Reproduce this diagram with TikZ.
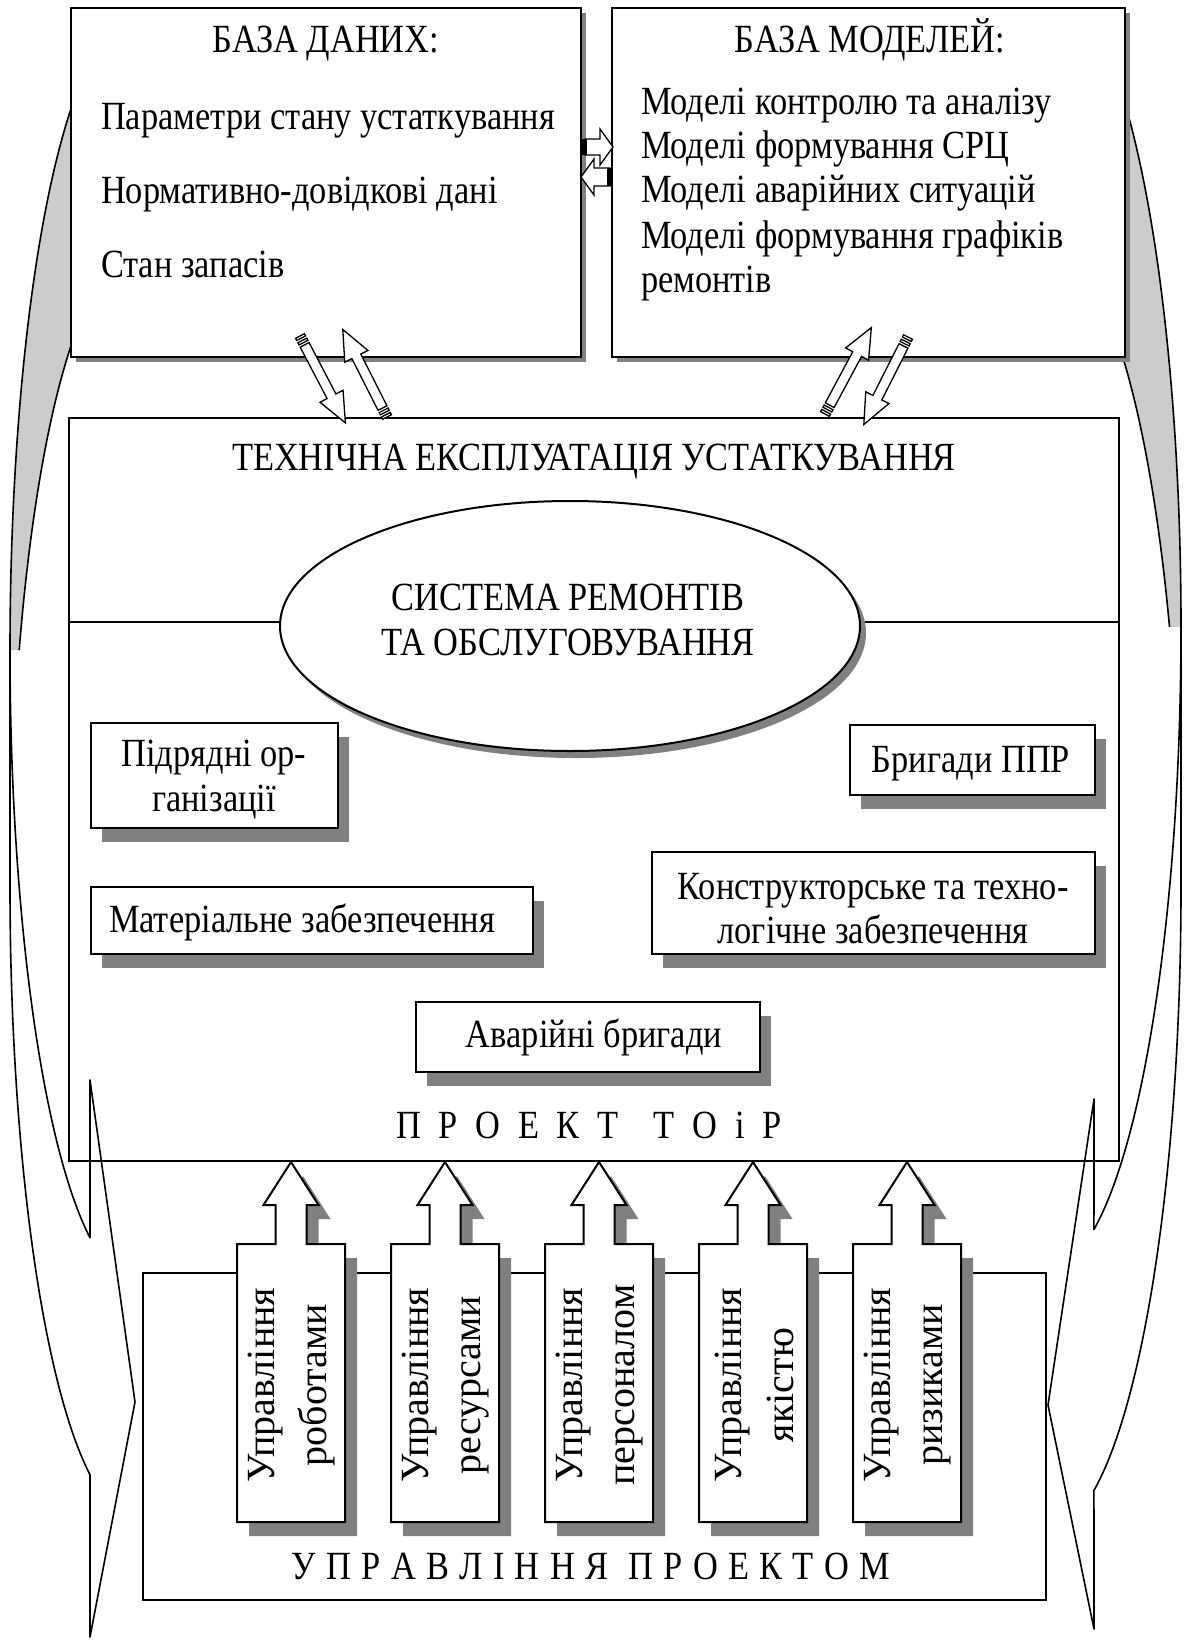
\documentclass[tikz,border=0pt]{standalone}
\usepackage{fontspec}
\setmainfont{Liberation Serif}[FakeStretch=0.86]
\newfontfamily\upfont{Liberation Serif}
\usetikzlibrary{shapes.geometric, shadows, positioning}
\definecolor{cshade}{HTML}{808080}
\definecolor{cback}{HTML}{CCCCCC}
\tikzset{
  every picture/.style={x=1pt, y=-1pt, line width=2pt, font=\fontsize{40}{44.5}\selectfont},
  panel/.style={draw, fill=white, inner sep=0pt, drop shadow={shadow xshift=5pt, shadow yshift=-5pt, fill=cshade, opacity=1}},
  card/.style={draw, fill=white, inner sep=0pt, drop shadow={shadow xshift=11pt, shadow yshift=-14pt, fill=cshade, opacity=1}},
  ribbon/.style={draw, line width=1.6pt, line join=round},
  block/.style={draw, fill=white, line width=1.3pt},
  heading/.style={inner sep=0pt, anchor=base},
  entry/.style={inner sep=0pt, anchor=base west},
  vtext/.style={inner sep=0pt, rotate=90, align=center, font=\upfont\fontsize{40}{52}\selectfont},
}
\newcommand{\ctlarrow}[1]{({#1-54},1522) -- ({#1-54},1244) -- ({#1-15.5},1244) -- ({#1-15.5},1205) -- ({#1-27.5},1205) -- (#1,1162) -- ({#1+27.5},1205) -- ({#1+15.5},1205) -- ({#1+15.5},1244) -- ({#1+54},1244) -- ({#1+54},1522) -- cycle}
\newcommand{\penarrow}[2]{%
  \begin{scope}[shift={#1}, rotate=#2]
    \draw[block] (0,-5) rectangle (2.5,5);
    \draw[block] (5,-5) rectangle (7.5,5);
    \draw[block] (10,-5) -- (68,-5) -- (68,-13) -- (98,0) -- (68,13) -- (68,5) -- (10,5) -- cycle;
  \end{scope}}

\begin{document}
\begin{tikzpicture}
  \useasboundingbox (0,0) rectangle (1187,1640);
  \fill[white] (0,0) rectangle (1187,1640);

  \fill[cback] plot[domain=270:180, samples=80] ({135+125*cos(\x)},{650+630*sin(\x)}) -- plot[domain=202.1:270, samples=80] ({135+125*cos(\x)},{887+630*sin(\x)}) -- cycle;
  \draw[ribbon] plot[domain=270:180, samples=80] ({135+125*cos(\x)},{650+630*sin(\x)});
  \draw[ribbon] plot[domain=270:202.1, samples=80] ({135+125*cos(\x)},{887+630*sin(\x)});
  \draw[ribbon, fill=white] plot[domain=180:111.1, samples=80] ({135+125*cos(\x)},{650+630*sin(\x)}) -- (90,1080) -- (135,1402) -- (90,1637) -- plot[domain=111.1:180, samples=80] ({135+125*cos(\x)},{887+630*sin(\x)}) -- cycle;

  \fill[cback] plot[domain=293:360, samples=80] ({1048+133*cos(\x)},{627+642*sin(\x)}) -- plot[domain=336:270, samples=80] ({1048+133*cos(\x)},{888+642*sin(\x)}) -- cycle;
  \draw[ribbon] plot[domain=293:360, samples=80] ({1048+133*cos(\x)},{627+642*sin(\x)});
  \draw[ribbon] plot[domain=270:336, samples=80] ({1048+133*cos(\x)},{888+642*sin(\x)});
  \draw[ribbon, fill=white] plot[domain=360:429.8, samples=80] ({1048+133*cos(\x)},{627+642*sin(\x)}) -- (1094,1099) -- (1048,1405) -- (1094,1629) -- plot[domain=429.8:360, samples=80] ({1048+133*cos(\x)},{888+642*sin(\x)}) -- cycle;

  \node[draw, inner sep=0pt, minimum width=1050pt, minimum height=743pt] (tech) at (594,789.5) {};
  \node[heading] (techt) at (594,470) {ТЕХНІЧНА ЕКСПЛУАТАЦІЯ УСТАТКУВАННЯ};
  \coordinate (divl) at (69,622);
  \coordinate (divr) at (1119,622);
  \draw (divl) -- (divr);

  \node[panel, minimum width=510pt, minimum height=349pt] (dbase) at (326,182.5) {};
  \node[heading] (dbaset) at (326,53) {БАЗА ДАНИХ:};
  \node[entry] (db1) at (100,130) {Параметри стану устаткування};
  \node[entry] (db2) at (100,204) {Нормативно-довідкові дані};
  \node[entry] (db3) at (100,277) {Стан запасів};

  \node[panel, minimum width=513pt, minimum height=349pt] (dmodel) at (868.5,182.5) {};
  \node[heading] (dmodelt) at (870,53) {БАЗА МОДЕЛЕЙ:};
  \node[entry] (dm1) at (640,115) {Моделі контролю та аналізу};
  \node[entry] (dm2) at (640,159) {Моделі формування СРЦ};
  \node[entry] (dm3) at (640,203) {Моделі аварійних ситуацій};
  \node[entry] (dm4) at (640,248) {Моделі формування графіків};
  \node[entry] (dm5) at (640,292) {ремонтів};

  \node[ellipse, draw, fill=white, inner sep=0pt, minimum width=580pt, minimum height=250pt, drop shadow={shadow xshift=6pt, shadow yshift=-7pt, fill=cshade, opacity=1}] (srm) at (570,626) {};
  \node[heading] (srm1) at (568,610) {СИСТЕМА РЕМОНТІВ};
  \node[heading] (srm2) at (568,655) {ТА ОБСЛУГОВУВАННЯ};

  \node[card, minimum width=247pt, minimum height=105pt] (subc) at (214.5,775.5) {};
  \node[heading] (subc1) at (214,766) {Підрядні ор-};
  \node[heading] (subc2) at (214,811) {ганізації};
  \node[card, minimum width=245pt, minimum height=70pt] (ppr) at (972.5,760) {};
  \node[heading] (pprt) at (971,772) {Бригади ППР};
  \node[card, minimum width=442pt, minimum height=67pt] (mat) at (312,920.5) {};
  \node[entry] (matt) at (108,932) {Матеріальне забезпечення};
  \node[card, minimum width=443pt, minimum height=102pt] (kon) at (873.5,903) {};
  \node[heading] (kon1) at (873,899) {Конструкторське та техно-};
  \node[heading] (kon2) at (873,943) {логічне забезпечення};
  \node[card, minimum width=344pt, minimum height=70pt] (avar) at (588,1037) {};
  \node[heading] (avart) at (594,1047) {Аварійні бригади};

  \node[heading] (toir) at (589,1138) {\spaceskip=17.7pt П Р О Е К Т\ \ Т О і Р};

  \node[draw, fill=white, inner sep=0pt, minimum width=903pt, minimum height=327pt] (proj) at (594.5,1436.5) {};
  \node[heading] (projt) at (591,1579) {\spaceskip=10.3pt У П Р А В Л І Н Н Я\ \ П Р О Е К Т О М};

  \foreach \cx/\txt [count=\i] in {291/{Управління\\роботами}, 445/{Управління\\ресурсами}, 599/{Управління\\персоналом}, 753/{Управління\\якістю}, 907/{Управління\\ризиками}} {
    \fill[cshade, shift={(12,14)}] \ctlarrow{\cx};
    \draw[fill=white] \ctlarrow{\cx};
    \node[vtext] (ctl\i) at ({\cx+1},1385) {\txt};
  }

  \draw[block] (585,139) -- (600,139) -- (600,129) -- (613,147) -- (600,165) -- (600,155) -- (585,155) -- cycle;
  \fill (582,139) rectangle (587,155);
  \draw[block] (610,168) -- (594,168) -- (594,159) -- (581,177) -- (594,195) -- (594,186) -- (610,186) -- cycle;
  \fill (607,168) rectangle (612,186);

  \penarrow{(300,336)}{-62.4}
  \penarrow{(387,417)}{116.8}
  \penarrow{(825,414)}{61.8}
  \penarrow{(908,337)}{-116.8}
\end{tikzpicture}
\end{document}
